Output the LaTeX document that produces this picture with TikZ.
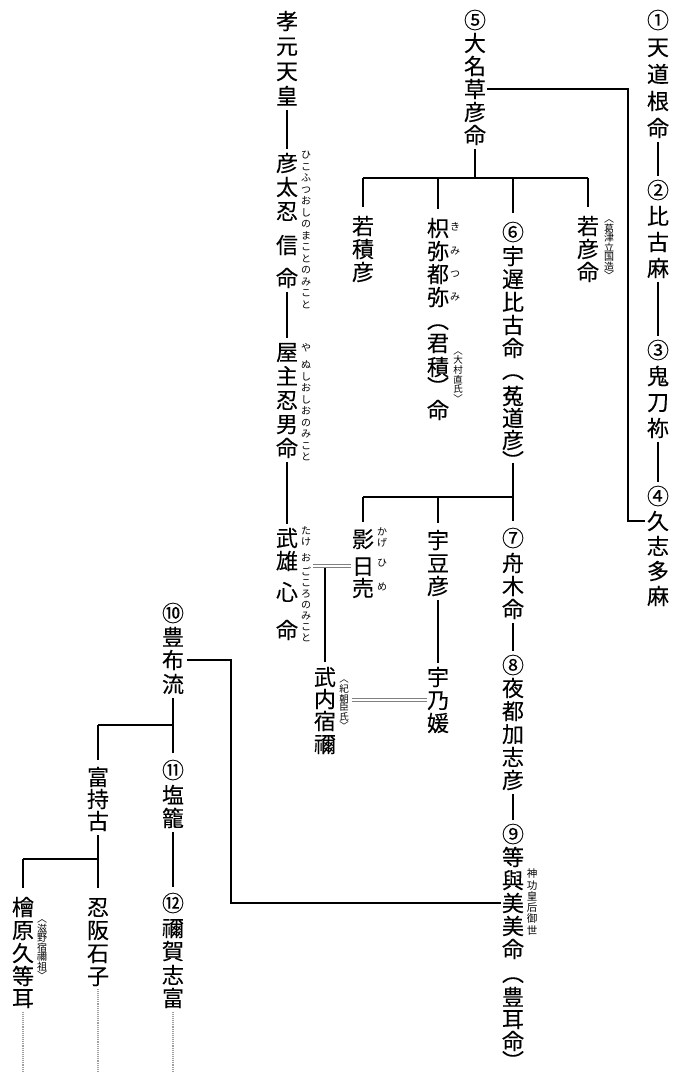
\documentclass[tikz,border=0pt]{standalone}
\usepackage{fontspec}
\newfontfamily\jp[FakeBold=0.12]{Noto Sans CJK JP}
\newfontfamily\jpr{Noto Sans CJK JP}
\usetikzlibrary{calc}
\newcommand\vcol[3]{\foreach \ch/\yy [count=\ii] in {#3}{\node[g] (#1\ii) at (#2,\yy) {\ch};}}
\newcommand\rcol[3]{\foreach \ch/\yy [count=\ii] in {#3}{\node[rb] (#1\ii) at (#2,\yy) {\ch};}}
\begin{document}
\begin{tikzpicture}[x=1pt,y=-1pt,
 g/.style={font=\jp\fontsize{22}{22}\selectfont,inner sep=0pt,text height=19.36pt,text depth=2.64pt},
 par/.style={g,rotate=-90},
 rb/.style={font=\jpr\fontsize{10}{10}\selectfont,inner sep=0pt,text height=8.8pt,text depth=1.2pt},
 ann/.style={font=\jpr\fontsize{10}{9.5}\selectfont,inner sep=0pt,align=center},
 annb/.style={font=\jpr\fontsize{9.5}{8.4}\selectfont,inner sep=0pt,align=center},
 ann2/.style={font=\jpr\fontsize{10.5}{11.3}\selectfont,inner sep=0pt,align=center},
 ln/.style={line width=1.4pt},
 dbl/.style={double=white,double distance=2.4pt,line width=0.7pt,draw=gray},
 dsh/.style={line width=2.6pt,draw=gray!75,dash pattern=on 1pt off 0.9pt}]
\useasboundingbox (0,0) rectangle (684,1072);
% right column
\vcol{A}{658}{①/20,天/47,道/74,根/101,命/128}
\vcol{B}{658}{②/190,比/216,古/242,麻/268}
\vcol{C}{658}{③/350,鬼/376,刀/402,祢/428}
\vcol{D}{658}{④/496,久/521,志/546,多/571,麻/596}
% 5
\vcol{E}{475}{⑤/20,大/43,名/66,草/89,彦/112,命/135}
\vcol{F}{363}{若/226,積/249,彦/272}
\vcol{G}{438}{枳/228,弥/251,都/274,弥/297}
\node[par] (Gp1) at (438,320) {（};
\vcol{Gb}{438}{君/343,積/367}
\node[par] (Gp2) at (438,387) {）};
\vcol{Gc}{438}{命/410}
\rcol{Gr}{455}{き/227,み/251,つ/274,み/297}
\node[annb] (Gann) at (458,377) {︿\\大\\村\\直\\氏\\﹀};
\vcol{H}{513}{⑥/232,宇/256,遅/279,比/302,古/325,命/348}
\node[par] (Hp1) at (513,370) {（};
\vcol{Hb}{513}{菟/396,道/418,彦/440}
\node[par] (Hp2) at (513,461) {）};
\vcol{I}{588}{若/226,彦/249,命/272}
\node[ann] (Iann) at (609,250) {︿\\葛\\津\\立\\国\\造\\﹀};
% Kogen column
\vcol{Z}{287}{孝/21,元/46,天/71,皇/96}
\vcol{Y}{287}{彦/163,太/187,忍/211,信/245,命/278}
\rcol{Yr}{306}{ひ/155,こ/166.5,ふ/178,つ/189.5,お/201,し/212.5,の/224,ま/235.5,こ/247,と/258.5,の/270,み/281.5,こ/293,と/304.5}
\vcol{X}{287}{屋/352,主/376,忍/400,男/424,命/448}
\rcol{Xr}{306}{や/348,ぬ/365,し/376.5,お/388,し/399.5,お/411,の/422.5,み/434,こ/445.5,と/457}
\vcol{W}{287}{武/538,雄/561,心/592,命/630}
\rcol{Wr}{306}{た/531,け/542,お/558,ご/572,こ/583,ろ/594,の/605,み/616,こ/627,と/638}
% second generation
\vcol{J}{363}{影/539,日/566,売/588}
\rcol{Jr}{382}{か/532,げ/543,ひ/563,め/587}
\vcol{K}{438}{宇/540,豆/563,彦/586}
\vcol{O}{438}{宇/677,乃/700,媛/723}
\vcol{L}{513}{⑦/538,舟/563,木/586,命/609}
\vcol{M}{513}{⑧/665,夜/688,都/711,加/734,志/757,彦/780}
\vcol{N}{513}{⑨/834,等/857,與/880,美/903,美/926,命/949}
\node[par] (Np1) at (513,973) {（};
\vcol{Nb}{513}{豊/997,耳/1019,命/1041}
\node[par] (Np2) at (513,1061) {）};
\node[ann2] (Nann) at (532,902) {神\\功\\皇\\后\\御\\世};
\vcol{P}{325}{武/677,内/699,宿/721,禰/744}
\node[annb] (Pann) at (344,705) {︿\\紀\\朝\\臣\\氏\\﹀};
% left part
\vcol{Q}{173}{⑩/613,豊/637,布/660,流/684}
\vcol{R}{98}{富/777,持/799,古/821}
\vcol{S}{173}{⑪/770,塩/795,籠/818}
\vcol{T}{173}{⑫/903,禰/928,賀/951,志/975,富/998}
\vcol{U}{98}{忍/907,阪/930,石/953,子/976}
\vcol{V}{23}{檜/907,原/930,久/953,等/976,耳/998}
\node[ann] (Vann) at (42,950) {︿\\滋\\野\\宿\\禰\\祖\\﹀};
% connectors
\draw[ln,shorten <=3pt,shorten >=3pt] (A5.south) -- (B1.north);
\draw[ln,shorten <=3pt,shorten >=3pt] (B4.south) -- (C1.north);
\draw[ln,shorten <=3pt,shorten >=3pt] (C4.south) -- (D1.north);
\coordinate (xA) at (628,0);
\draw[ln] ([xshift=1pt]E4.east) -- (xA |- E4.east) -- (xA |- D2.west) -- ([xshift=-2pt]D2.west);
\draw[ln,shorten <=3pt,shorten >=3pt] (Z4.south) -- (Y1.north);
\draw[ln,shorten <=3pt,shorten >=3pt] (Y5.south) -- (X1.north);
\draw[ln,shorten <=3pt,shorten >=3pt] (X5.south) -- (W1.north);
\coordinate (b1) at (475,178);
\draw[ln,shorten <=3pt] (E6.south) -- (b1);
\draw[ln] (F1.north |- b1) -- (I1.north |- b1);
\foreach \n in {F,G,H,I} \draw[ln,shorten >=8pt] (\n1.north |- b1) -- (\n1.north);
\coordinate (b2) at (513,497);
\draw[ln] ($(Hp2.center)+(0,2)$) -- (b2);
\draw[ln] (J1.north |- b2) -- (b2);
\foreach \n in {J,K,L} \draw[ln,shorten >=6pt] (\n1.north |- b2) -- (\n1.north);
\draw[ln,shorten <=3pt,shorten >=3pt] (K3.south) -- (O1.north);
\draw[ln,shorten <=3pt,shorten >=3pt] (L4.south) -- (M1.north);
\draw[ln,shorten <=3pt,shorten >=3pt] (M6.south) -- (N1.north);
\coordinate (wd) at (313,566);
\draw[dbl] ([xshift=-1pt]J2.west) -- (wd |- J2.west);
\draw[ln,shorten <=2pt,shorten >=4pt] (P1.north |- J2.west) -- (P1.north);
\draw[dbl,shorten <=3pt] (Pann.east |- O2.west) -- (O2.west);
\coordinate (xQ) at (231,0);
\draw[ln] ([xshift=3pt]Q3.east) -- (xQ |- Q3.east) -- (xQ |- N4.west) -- ([xshift=-1pt]N4.west);
\coordinate (b3) at (173,725);
\draw[ln,shorten <=3pt,shorten >=6pt] (Q4.south) -- (S1.north);
\draw[ln] (b3) -- (R1.north |- b3);
\draw[ln,shorten >=6pt] (R1.north |- b3) -- (R1.north);
\draw[ln,shorten <=3pt,shorten >=5pt] (S3.south) -- (T1.north);
\coordinate (b4) at (98,859);
\draw[ln,shorten <=3pt,shorten >=8pt] (R3.south) -- (U1.north);
\draw[ln] (b4) -- (V1.north |- b4);
\draw[ln,shorten >=8pt] (V1.north |- b4) -- (V1.north);
\coordinate (bot) at (0,1072);
\draw[dsh,shorten <=3pt] (V5.south) -- (V5.south |- bot);
\draw[dsh,shorten <=2pt] (U4.south) -- (U4.south |- bot);
\draw[dsh,shorten <=3pt] (T5.south) -- (T5.south |- bot);
\end{tikzpicture}
\end{document}
